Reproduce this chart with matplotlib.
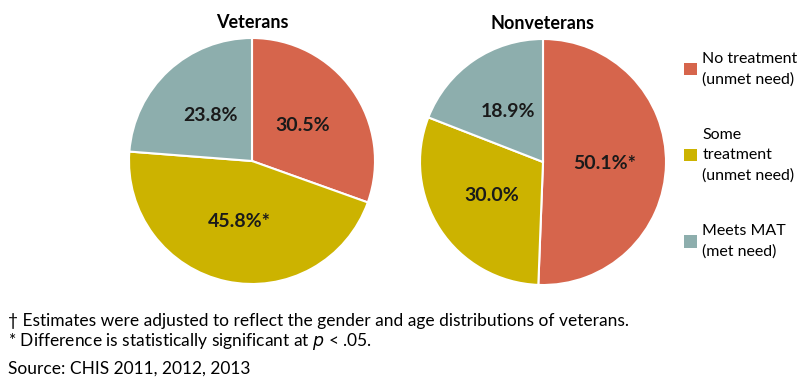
import matplotlib
matplotlib.use("Agg")
import matplotlib.pyplot as plt
from matplotlib.patches import Patch

plt.rcParams['font.family'] = ['Lato', 'DejaVu Sans']

# data
groups = ["Veterans", "Nonveterans"]
categories = ["No treatment\n(unmet need)", "Some\ntreatment\n(unmet need)", "Meets MAT\n(met need)"]
veterans = [30.5, 45.8, 23.8]
nonveterans = [50.1, 30.0, 18.9]
veterans_sig = [False, True, False]
nonveterans_sig = [True, False, False]
colors = ["#D6654C", "#CCB300", "#8DAEAD"]

fig = plt.figure(figsize=(8, 3.82), dpi=100)

def draw_pie(rect, values, sig, title):
    ax = fig.add_axes(rect)
    # labels show the published values (nonveterans don't add to 100)
    labels = iter([f"{v:.1f}%" + ("*" if s else "") for v, s in zip(values, sig)])
    ax.pie(values, colors=colors, startangle=90, counterclock=False,
           wedgeprops=dict(edgecolor="white", linewidth=1.5),
           autopct=lambda p: next(labels),
           pctdistance=0.5,
           textprops=dict(fontsize=14, fontweight="bold", color="#1a1a1a"))
    ax.set_xlim(-1, 1)
    ax.set_ylim(-1, 1)
    ax.set_aspect("equal")
    ax.text(0, 1.06, title, ha="center", va="bottom", fontsize=13, fontweight="bold")
    return ax

W, H = 800, 382
r = 123
draw_pie([(252 - r) / W, 1 - (161 + r) / H, 2 * r / W, 2 * r / H], veterans, veterans_sig, groups[0])
draw_pie([(543 - r) / W, 1 - (162 + r) / H, 2 * r / W, 2 * r / H], nonveterans, nonveterans_sig, groups[1])

# legend
handles = [Patch(facecolor=c, edgecolor="none") for c in colors]
leg = fig.legend(handles, categories, loc="upper left", bbox_to_anchor=(684 / W, 1 - 52 / H),
                 frameon=False, fontsize=11.5, handlelength=0.8, handleheight=0.8,
                 handletextpad=0.35, labelspacing=2.6, borderpad=0, borderaxespad=0,
                 alignment="left")
for t in leg.get_texts():
    t.set_linespacing(1.55)

# footnotes
fig.text(8 / W, 1 - 321 / H, "\u2020 Estimates were adjusted to reflect the gender and age distributions of veterans.",
         fontsize=12.5, va="center")
fig.text(8 / W, 1 - 342 / H, "* Difference is statistically significant at $\\it{p}$ < .05.",
         fontsize=12.5, va="center")
fig.text(8 / W, 1 - 369 / H, "Source: CHIS 2011, 2012, 2013", fontsize=12.5, va="center")

fig.savefig("out.png", dpi=100)
